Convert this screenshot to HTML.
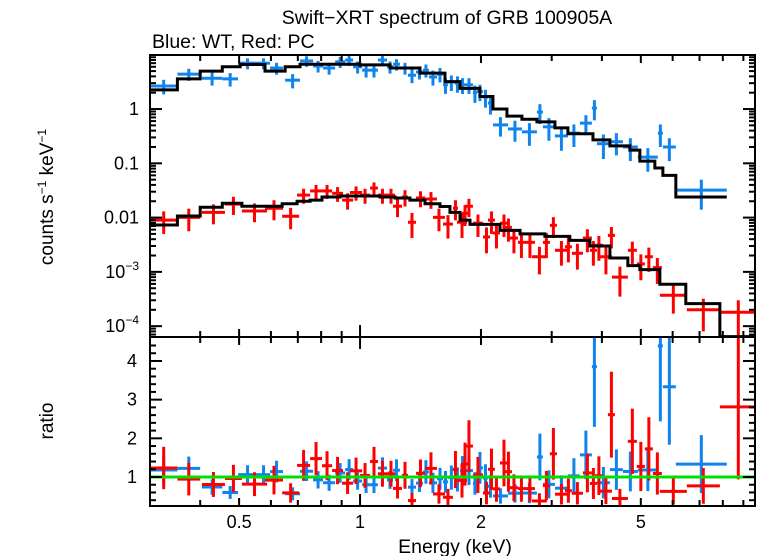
<!DOCTYPE html>
<html><head><meta charset="utf-8">
<style>
html,body{margin:0;padding:0;background:#fff;}
svg{display:block;font-family:"Liberation Sans",sans-serif;}
</style></head>
<body>
<svg id="chart" width="758" height="556" viewBox="0 0 758 556" xmlns="http://www.w3.org/2000/svg">
<defs>
<clipPath id="clipTop"><rect x="150" y="55" width="605" height="282"/></clipPath>
<clipPath id="clipBot"><rect x="150" y="337" width="605" height="169"/></clipPath>
</defs>
<text x="447" y="24" font-size="19.5" text-anchor="middle">Swift−XRT spectrum of GRB 100905A</text>
<text x="152" y="48" font-size="19.5">Blue: WT, Red: PC</text>
<text transform="translate(53,197) rotate(-90)" font-size="19" text-anchor="middle">counts s<tspan font-size="12" dy="-7">−1</tspan><tspan dy="7"> keV</tspan><tspan font-size="12" dy="-7">−1</tspan></text>
<text transform="translate(53,421) rotate(-90)" font-size="19" text-anchor="middle">ratio</text>
<text x="455" y="553" font-size="19.5" text-anchor="middle">Energy (keV)</text>
<g id="gTop" clip-path="url(#clipTop)"></g>
<g id="gBot" clip-path="url(#clipBot)"></g>
<g id="gAxes"></g>
</svg>
<script>
// ---- data ----
const blueLo = [.300,.351,.404,.454,.497,.554,.597,.651,.709,.764,.809,.867,.918,.961,1.012,1.059,1.108,1.167,1.208,1.272,1.316,1.378,1.434,1.484,1.554,1.609,1.655,1.722,1.774,1.825,1.910,1.954,2.023,2.082,2.142,2.335,2.529,2.756,2.852,3.056,3.292,3.526,3.777,3.887,4.188,4.511,4.915,5.512,5.673,6.111];
const blueHi = [.351,.400,.454,.497,.554,.597,.643,.709,.764,.809,.867,.918,.961,1.012,1.059,1.108,1.167,1.208,1.257,1.316,1.378,1.434,1.484,1.554,1.609,1.655,1.722,1.774,1.825,1.910,1.954,2.023,2.082,2.142,2.335,2.529,2.756,2.852,3.056,3.292,3.526,3.777,3.887,4.188,4.511,4.915,5.512,5.673,6.111,8.184];
const blueFlux = [2.66,4.4,3.7,3.6,7.0,7.0,5.7,3.4,7.7,6.2,5.7,7.4,8.0,6.0,5.2,5.2,8.0,6.0,6.7,5.7,4.2,4.8,5.2,3.9,4.4,2.8,3.15,3.0,2.8,2.8,2.0,2.1,1.66,1.29,0.51,0.43,0.38,0.88,0.47,0.32,0.36,0.55,1.04,0.23,0.25,0.20,0.13,0.36,0.20,0.032];
const blueErr = [0.8,1.1,1.0,1.0,1.6,1.6,1.4,1.0,1.7,1.5,1.4,1.7,1.8,1.5,1.4,1.4,1.8,1.5,1.6,1.4,1.2,1.3,1.4,1.2,1.3,0.9,1.0,1.0,0.9,0.9,0.7,0.7,0.6,0.5,0.2,0.18,0.17,0.35,0.21,0.15,0.16,0.22,0.42,0.11,0.11,0.09,0.06,0.16,0.09,0.018];
const blueModelEdges = [.300,.351,.400,.454,.503,.580,.651,.709,1.0,1.188,1.410,1.627,1.774,1.988,2.142,2.321,2.529,2.756,3.056,3.292,3.800,4.188,4.695,4.972,5.418,5.673,6.111,8.184];
const blueModel = [2.25,3.6,5.0,6.0,6.6,5.0,6.0,6.7,6.5,5.7,4.6,3.2,2.4,1.7,1.0,0.74,0.65,0.58,0.45,0.35,0.27,0.21,0.175,0.11,0.082,0.06,0.024];

const redLo = [.300,.351,.404,.461,.508,.580,.640,.697,.751,.804,.852,.902,.944,1.0,1.059,1.108,1.167,1.208,1.272,1.316,1.378,1.451,1.519,1.609,1.703,1.743,1.794,1.825,1.910,2.023,2.082,2.142,2.230,2.295,2.361,2.472,2.573,2.679,2.852,2.969,3.056,3.236,3.368,3.587,3.734,3.842,3.954,4.140,4.237,4.642,4.887,5.117,5.357,5.576,6.508,7.865];
const redHi = [.351,.400,.461,.508,.587,.643,.705,.751,.804,.852,.907,.961,1.012,1.059,1.108,1.167,1.222,1.272,1.316,1.378,1.451,1.554,1.627,1.703,1.753,1.846,1.857,1.910,2.023,2.106,2.167,2.230,2.335,2.388,2.472,2.573,2.725,2.918,2.969,3.090,3.292,3.368,3.587,3.777,3.887,4.023,4.237,4.310,4.642,4.887,5.117,5.357,5.640,6.508,7.865,9.718];
const redFlux = [.0090,.0101,.0125,.0177,.0132,.0149,.0106,.026,.031,.031,.028,.021,.029,.026,.035,.026,.026,.0162,.024,.0082,.023,.022,.0101,.0076,.0149,.0082,.012,.0162,.0079,.0044,.0090,.0052,.0079,.0066,.0042,.0035,.0035,.0019,.0035,.0072,.0025,.0029,.0022,.0042,.0025,.0031,.0019,.0047,.0008,.0025,.0014,.0019,.0012,.00037,.00020,.00018];
const redErr = [.0040,.0045,.0050,.0065,.0050,.0060,.0045,.0080,.0090,.0090,.0085,.0070,.0085,.0080,.0095,.0080,.0080,.0060,.0080,.0040,.0075,.0075,.0045,.0035,.0060,.0040,.0050,.0060,.0035,.0022,.0040,.0025,.0035,.0030,.0020,.0017,.0017,.0010,.0017,.0030,.0012,.0014,.0011,.0019,.0012,.0015,.0010,.0020,.00045,.0011,.0007,.0009,.0006,.00020,.00012,.00012];
const redModelEdges = [.300,.351,.400,.454,.508,.640,.697,.751,.804,.892,1.0,1.121,1.222,1.331,1.451,1.581,1.674,1.774,1.878,2.230,2.502,2.885,3.328,3.734,4.188,4.642,4.972,5.576,6.47,7.865,9.718];
const redModel = [.0073,.0107,.0155,.0184,.0162,.018,.020,.021,.024,.025,.025,.024,.023,.021,.018,.016,.0125,.009,.0075,.0058,.005,.0045,.0038,.003,.0018,.0013,.0011,.00059,.00026,.000064];

const xTickVals = [0.5,1,2,5];
const xTickLabels = ["0.5","1","2","5"];
const yTopTickVals = [1,0.1,0.01,0.001,0.0001];
const ratioTickVals = [1,2,3,4];

// ---- scales ----
const X0=150,X1=755,EMIN=0.300,EMAX=9.62;
const TY0=55,TY1=337,FMAX=9.9,FMIN=10**-4.2;
const BY0=337,BY1=506,RMAX=4.62,RMIN=0.25;
function xs(e){return X0+(Math.log10(e)-Math.log10(EMIN))/(Math.log10(EMAX)-Math.log10(EMIN))*(X1-X0);}
function ys(f){return TY0+(Math.log10(FMAX)-Math.log10(f))/(Math.log10(FMAX)-Math.log10(FMIN))*(TY1-TY0);}
function yr(r){return BY0+(RMAX-r)/(RMAX-RMIN)*(BY1-BY0);}

const NS="http://www.w3.org/2000/svg";
const gTop=document.getElementById('gTop'),gBot=document.getElementById('gBot'),gAx=document.getElementById('gAxes');
function mk(tag,attrs,parent){const el=document.createElementNS(NS,tag);for(const k in attrs)el.setAttribute(k,attrs[k]);parent.appendChild(el);return el;}
function line(x1,y1,x2,y2,c,w,parent){return mk('line',{x1:x1,y1:y1,x2:x2,y2:y2,stroke:c,'stroke-width':w},parent);}

function modelAt(edges,vals,e){for(let i=0;i<vals.length;i++){if(e>=edges[i]&&e<edges[i+1])return vals[i];}return vals[vals.length-1];}

function drawModel(edges,vals,name){
  let d='';
  for(let i=0;i<vals.length;i++){
    const y=ys(vals[i]);
    d+=(i===0?'M':'L')+xs(edges[i])+','+y+'L'+xs(edges[i+1])+','+y;
  }
  const p=mk('path',{d:d,fill:'none',stroke:'#000','stroke-width':3},gTop);
  
  
}
function drawData(lo,hi,flux,err,color,edges,model,name){
  for(let i=0;i<flux.length;i++){
    const em=Math.sqrt(lo[i]*hi[i]);
    const g=mk('g',{},gTop);
    
    
    const y=ys(flux[i]);
    line(xs(lo[i]),y,xs(hi[i]),y,color,3,g);
    const lowv=Math.max(flux[i]-err[i],FMIN/10);
    line(xs(em),ys(flux[i]+err[i]),xs(em),ys(lowv),color,3,g);
    const m=modelAt(edges,model,em);
    const r=flux[i]/m,re=err[i]/m;
    const g2=mk('g',{},gBot);
    
    
    const yy=yr(r);
    line(xs(lo[i]),yy,xs(hi[i]),yy,color,3,g2);
    line(xs(em),yr(r+re),xs(em),yr(r-re),color,3,g2);
  }
}
drawData(blueLo,blueHi,blueFlux,blueErr,'#1084ee',blueModelEdges,blueModel,'wt-blue');
drawData(redLo,redHi,redFlux,redErr,'#ff0000',redModelEdges,redModel,'pc-red');
drawModel(blueModelEdges,blueModel,'wt-model-line');
drawModel(redModelEdges,redModel,'pc-model-line');
const gl=line(X0,yr(1),X1,yr(1),'#00e000',3,gBot);



// ---- axes ----
mk('rect',{x:X0,y:TY0,width:X1-X0,height:BY1-TY0,fill:'none',stroke:'#000','stroke-width':2},gAx);
line(X0,BY0,X1,BY0,'#000',2,gAx);
const minorE=[0.3,0.4,0.6,0.7,0.8,0.9,3,4,6,7,8,9];
[[TY0,1],[BY0,-1],[BY0,1],[BY1,-1]].forEach(([y0,dir])=>{
  minorE.forEach(e=>{const x=xs(e);if(x>X0&&x<X1)line(x,y0,x,y0+dir*6,'#000',2,gAx);});
  xTickVals.forEach(e=>{const x=xs(e);line(x,y0,x,y0+dir*(e===1?12:8),'#000',2,gAx);});
});
xTickVals.forEach((e,i)=>{
  const t=mk('text',{x:xs(e),y:528,'font-size':18,'text-anchor':'middle'},gAx);
  t.textContent=xTickLabels[i];
  
  
});
for(let dec=-5;dec<=1;dec++){
  for(let k=1;k<10;k++){
    const v=k*10**dec;const y=ys(v);
    if(y<TY0||y>TY1)continue;
    const len=k===1?12:6;
    line(X0,y,X0+len,y,'#000',2,gAx);line(X1,y,X1-len,y,'#000',2,gAx);
  }
}
yTopTickVals.forEach(v=>{
  const y=ys(v);
  const t=mk('text',{x:139,y:y+6,'font-size':18,'text-anchor':'end'},gAx);
  if(v>=0.01){t.textContent=String(v);}
  else{const p=Math.round(Math.log10(v));t.textContent='10';const s=mk('tspan',{'font-size':12,dy:-8},t);s.textContent='−'+Math.abs(p);}
  
  
});
for(let v=0.4;v<=4.6;v+=0.2){
  const y=yr(v);const major=Math.abs(v-Math.round(v))<1e-6;
  const len=major?12:6;
  line(X0,y,X0+len,y,'#000',2,gAx);line(X1,y,X1-len,y,'#000',2,gAx);
}
ratioTickVals.forEach(v=>{
  const t=mk('text',{x:137,y:yr(v)+6,'font-size':18,'text-anchor':'end'},gAx);
  t.textContent=String(v);
  
  
});
</script>
</body></html>
